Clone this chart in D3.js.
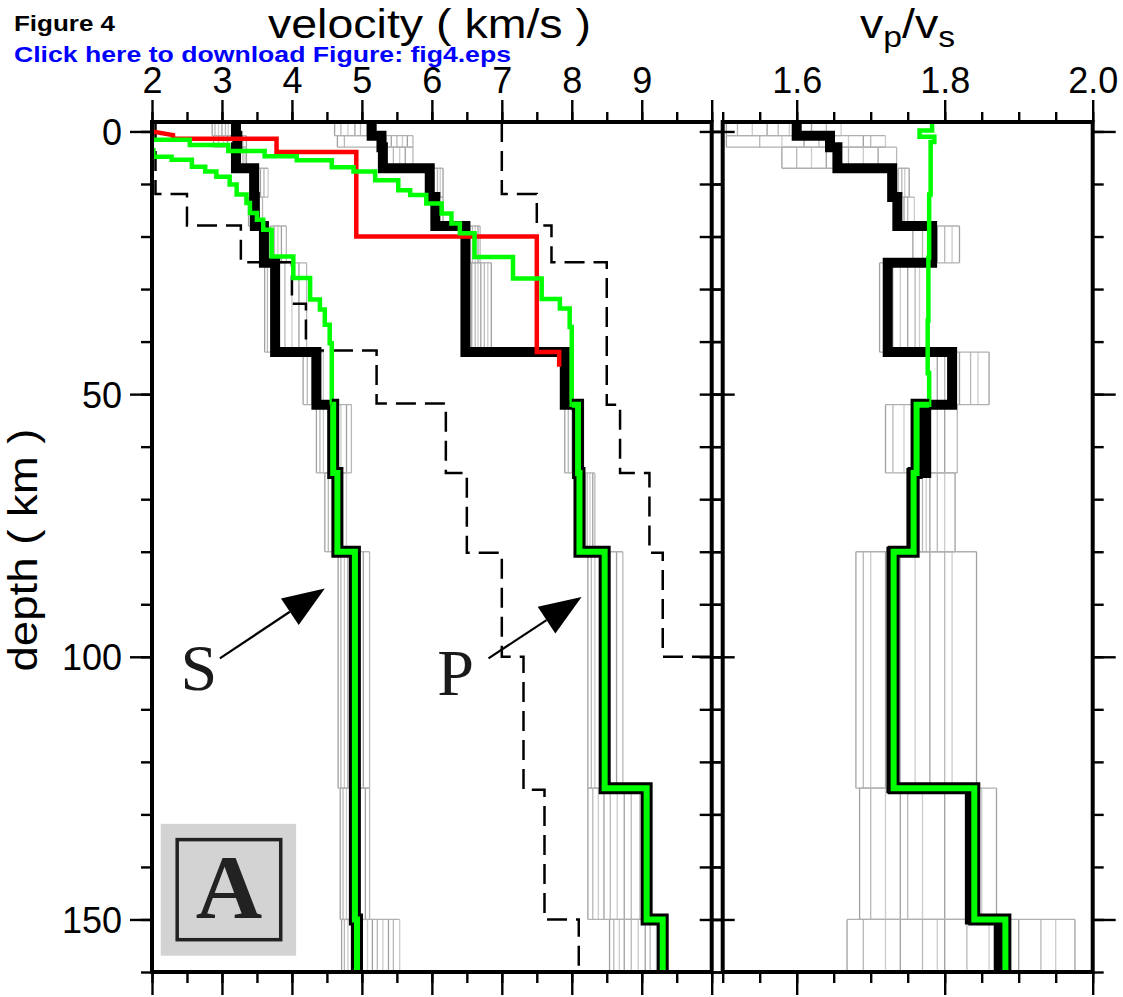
<!DOCTYPE html>
<html>
<head>
<meta charset="utf-8">
<script src="https://cdn.jsdelivr.net/npm/d3@7"></script>
<style>
  body { margin: 0; background: #fff; }
  text { font-family: 'Liberation Sans', Arial, Helvetica, sans-serif; }
</style>
</head>
<body>
<svg id="fig" width="1123" height="997"></svg>
<script>
// Layer tops (km) of the best model; the last layer runs to depthMax
var layerTop = [-1.8, 0.8, 3, 7, 12.5, 18, 25, 42, 52, 65, 80, 125, 150]
var depthMax = 160

// Best model (thick black)
var bestVp = [5.14, 5.28, 5.3, 5.97, 6.05, 6.48, 6.48, 7.9, 8.09, 8.11, 8.47, 9.07, 9.3]
var bestVs = [3.2, 3.22, 3.2, 3.46, 3.47, 3.6, 3.76, 4.35, 4.59, 4.65, 4.89, 4.89, 4.93]
var bestRatio = [1.6, 1.645, 1.655, 1.729, 1.736, 1.783, 1.723, 1.81, 1.775, 1.755, 1.728, 1.834, 1.873]

// Spread of the accepted models, one list per layer (grey)
var vpSpread = [
  [4.61, 4.7, 4.8, 4.9, 4.98, 5.07],
  [4.65, 4.75, 5.35, 5.42, 5.5, 5.58, 5.65, 5.73],
  [5.35, 5.45, 5.54, 5.62, 5.73],
  [6.02, 6.08, 6.12, 6.16],
  [6.02, 6.06, 6.1, 6.16],
  [6.54, 6.58, 6.62, 6.66, 6.69],
  [6.57, 6.62, 6.66, 6.7, 6.75, 6.8, 6.85],
  [7.85, 7.88, 7.92],
  [7.9, 7.95, 8.0, 8.05],
  [8.19, 8.22, 8.26, 8.3, 8.33],
  [8.23, 8.28, 8.33, 8.4, 8.48, 8.55, 8.64, 8.73],
  [8.23, 8.3, 8.38, 8.46, 8.55, 8.65, 8.75, 8.85, 8.97],
  [8.54, 8.6, 8.68, 8.75, 8.85, 8.95, 9.05, 9.12, 9.21]
]
var vsSpread = [
  [2.86, 2.9, 2.95, 3.0, 3.05, 3.09, 3.15],
  [2.88, 2.95, 3.02, 3.08, 3.26, 3.3, 3.35],
  [3.26, 3.3, 3.33, 3.35],
  [3.4, 3.45, 3.5, 3.55, 3.6, 3.66],
  [3.38, 3.42, 3.47, 3.52, 3.58],
  [3.69, 3.75, 3.8, 3.85, 3.92],
  [3.61, 3.65, 3.7, 3.8, 3.9, 4.0, 4.1, 4.21],
  [4.16, 4.22, 4.28, 4.35, 4.4, 4.45],
  [4.35, 4.4, 4.45, 4.6, 4.64, 4.7, 4.78, 4.85],
  [4.47, 4.52, 4.58, 4.65, 4.7, 4.78],
  [4.66, 4.7, 4.75, 4.8, 4.88, 4.95, 5.02, 5.11],
  [4.69, 4.73, 4.78, 4.85, 4.9, 4.97, 5.05, 5.11],
  [4.71, 4.75, 4.8, 4.85, 5.0, 5.08, 5.15, 5.22, 5.3, 5.38, 5.45, 5.54]
]
var ratioSpread = [
  [1.505, 1.52, 1.54, 1.56, 1.575, 1.59, 1.62, 1.64, 1.66],
  [1.505, 1.55, 1.58, 1.61, 1.63, 1.67, 1.69, 1.7, 1.72],
  [1.58, 1.6, 1.62, 1.64, 1.67, 1.69, 1.71, 1.735],
  [1.737, 1.742, 1.746, 1.752],
  [1.745, 1.75, 1.759],
  [1.757, 1.77, 1.78, 1.79, 1.8, 1.81, 1.82],
  [1.712, 1.73, 1.74, 1.75, 1.76, 1.766],
  [1.79, 1.8, 1.81, 1.82, 1.835, 1.845, 1.86],
  [1.72, 1.73, 1.745, 1.76, 1.775, 1.79, 1.8, 1.817],
  [1.765, 1.77, 1.775, 1.78, 1.79, 1.8, 1.814],
  [1.68, 1.69, 1.7, 1.72, 1.74, 1.76, 1.78, 1.8, 1.81, 1.843],
  [1.685, 1.7, 1.72, 1.74, 1.75, 1.77, 1.8, 1.83, 1.85, 1.87],
  [1.668, 1.69, 1.72, 1.74, 1.77, 1.79, 1.8, 1.83, 1.86, 1.9, 1.93, 1.95, 1.976]
]

// Reference model (green)
var greenPTop = [-1.8, 1.6, 2.6, 3.7, 4.7, 5.5, 6.8, 7.6, 9.3, 11.2, 12.1, 13.7, 15.6, 17.5, 19.4, 23.9, 28, 31.9, 33.7, 37.2, 52, 65, 80, 125, 150]
var greenP = [1.9, 2.54, 3.09, 3.61, 4.07, 4.57, 4.88, 5.19, 5.52, 5.69, 5.92, 6.14, 6.28, 6.4, 6.61, 7.16, 7.57, 7.83, 7.97, 8.0, 8.09, 8.11, 8.47, 9.07, 9.3]
var greenSTop = [-1.8, 3.6, 4.8, 5.4, 6.7, 7.6, 8.6, 10.1, 12.0, 13.6, 15.5, 16.8, 18.7, 23.8, 27.9, 32.0, 33.9, 36.8, 40.3, 52, 65, 80, 150]
var greenS = [1.9, 2.02, 2.28, 2.57, 2.76, 2.92, 3.11, 3.21, 3.35, 3.4, 3.5, 3.59, 3.71, 4.02, 4.26, 4.4, 4.47, 4.54, 4.57, 4.59, 4.65, 4.9, 4.93]
var greenRatioTop = [-1.8, -0.2, 1.0, 2.0, 12, 24, 36, 46, 52, 65, 80, 125, 150]
var greenRatio = [1.783, 1.766, 1.786, 1.781, 1.779, 1.778, 1.777, 1.779, 1.762, 1.758, 1.731, 1.84, 1.882]
var greenSplit = 52 // below this depth the reference model is drawn cased

// Starting model (red): velocity / depth vertices
var redV = [2.0, 2.3, 2.3, 3.78, 3.78, 4.92, 4.92, 7.5, 7.5, 7.82, 7.82]
var redD = [0, 0.7, 1.4, 1.4, 3.9, 3.9, 20, 20, 42, 42, 44.8]

// Search bounds (dashed)
var lowTop = [-1.8, 11.9, 17.9, 24.9, 32.8, 41.7, 51.8, 65, 80.2, 100, 125.3, 150]
var lowV = [2.05, 2.5, 3.27, 4.0, 4.2, 5.21, 6.2, 6.5, 7.0, 7.31, 7.61, 8.1]
var highTop = [-1.8, 11.9, 17.9, 24.9, 52, 65, 80.2, 100]
var highV = [7.0, 7.5, 7.71, 8.5, 8.69, 9.11, 9.3, 10.4]

// Axis ticks
var velMajor = [2, 3, 4, 5, 6, 7, 8, 9, 10]
var velMinor = d3.range(2, 10.01, 0.5)
var ratioMajor = [1.6, 1.8, 2.0]
var ratioMinor = d3.range(1.5, 2.001, 0.05)
var depthMajor = [0, 50, 100, 150]
var depthMinor = d3.range(0, 160.1, 10)

// Arrow annotations (start / tip in data units)
var arrows = [
  { label: 'S', x0: 2.97, d0: 100.3, x1: 4.47, d1: 87.0, lx: 2.67, ld: 106.3 },
  { label: 'P', x0: 6.81, d0: 100.3, x1: 8.14, d1: 88.6, lx: 6.34, ld: 107.3 }
]

// The svg
var svg = d3.select('#fig')

// Scales
var x = d3.scaleLinear().domain([2, 10]).range([152, 711.7])
var xr = d3.scaleLinear().domain([1.5, 2.0]).range([722.7, 1092.7])
var y = d3.scaleLinear().domain([-1.8, 160]).range([122, 972])

function stepPoints(tops, vals) {
  var pts = []
  vals.forEach(function(v, i) {
    var bot = i < tops.length - 1 ? tops[i + 1] : depthMax
    pts.push([v, tops[i]], [v, bot])
  })
  return pts
}

var defs = svg.append('defs')
defs.append('clipPath').attr('id', 'clipV').append('rect')
  .attr('x', x(2)).attr('y', y(-1.8))
  .attr('width', x(10) - x(2)).attr('height', y(160) - y(-1.8))
defs.append('clipPath').attr('id', 'clipR').append('rect')
  .attr('x', xr(1.5)).attr('y', y(-1.8))
  .attr('width', xr(2) - xr(1.5)).attr('height', y(160) - y(-1.8))

var gV = svg.append('g').attr('clip-path', 'url(#clipV)')
var gR = svg.append('g').attr('clip-path', 'url(#clipR)')

var shades = ['#a0a0a0', '#b8b8b8', '#cccccc']

function drawSpread(g, xs, spread) {
  var layers = g.append('g').attr('class', 'spread')
    .selectAll('g').data(spread).enter().append('g')
  layers.each(function(vals, i) {
    var top = layerTop[i]
    var bot = i < layerTop.length - 1 ? layerTop[i + 1] : depthMax
    var lay = d3.select(this)
    lay.selectAll('line.v').data(vals).enter().append('line')
      .attr('x1', function(d) { return xs(d) })
      .attr('x2', function(d) { return xs(d) })
      .attr('y1', y(top)).attr('y2', y(bot))
      .attr('stroke', function(d, j) { return shades[j % 3] })
      .attr('stroke-width', 1.3)
    lay.selectAll('line.h').data([top, bot]).enter().append('line')
      .attr('x1', xs(d3.min(vals))).attr('x2', xs(d3.max(vals)))
      .attr('y1', function(d) { return y(d) })
      .attr('y2', function(d) { return y(d) })
      .attr('stroke', '#b0b0b0').attr('stroke-width', 1.3)
  })
}

drawSpread(gV, x, vsSpread)
drawSpread(gV, x, vpSpread)
drawSpread(gR, xr, ratioSpread)

function lineFor(xs) {
  return d3.line().x(function(d) { return xs(d[0]) }).y(function(d) { return y(d[1]) })
}
var lineV = lineFor(x)
var lineR = lineFor(xr)

// dashed bounds
;[stepPoints(lowTop, lowV), stepPoints(highTop, highV)].forEach(function(pts) {
  gV.append('path').attr('d', lineV(pts)).attr('fill', 'none')
    .attr('stroke', '#000').attr('stroke-width', 2.5).attr('stroke-dasharray', '20,9')
})

// best models
gV.append('path').attr('d', lineV(stepPoints(layerTop, bestVs)))
  .attr('fill', 'none').attr('stroke', '#000').attr('stroke-width', 10)
gV.append('path').attr('d', lineV(stepPoints(layerTop, bestVp)))
  .attr('fill', 'none').attr('stroke', '#000').attr('stroke-width', 10)
gR.append('path').attr('d', lineR(stepPoints(layerTop, bestRatio)))
  .attr('fill', 'none').attr('stroke', '#000').attr('stroke-width', 10)

// starting model
gV.append('path').attr('d', lineV(redV.map(function(v, i) { return [v, redD[i]] })))
  .attr('fill', 'none').attr('stroke', '#ff0000').attr('stroke-width', 4.5)

// reference model: thin above greenSplit, cased below
function drawGreen(g, line, tops, vals) {
  var pts = stepPoints(tops, vals)
  var upper = pts.filter(function(p) { return p[1] <= greenSplit })
  var k = tops.indexOf(greenSplit)
  upper.push([vals[k], greenSplit])
  var lower = pts.filter(function(p) { return p[1] >= greenSplit })
  g.append('path').attr('d', line(upper)).attr('fill', 'none')
    .attr('stroke', '#00ff00').attr('stroke-width', 4.5)
  g.append('path').attr('d', line(lower)).attr('fill', 'none')
    .attr('stroke', '#000').attr('stroke-width', 12)
  g.append('path').attr('d', line(lower)).attr('fill', 'none')
    .attr('stroke', '#00ff00').attr('stroke-width', 6)
}
drawGreen(gV, lineV, greenSTop, greenS)
drawGreen(gV, lineV, greenPTop, greenP)
drawGreen(gR, lineR, greenRatioTop, greenRatio)

// arrows and P / S labels
arrows.forEach(function(a) {
  var x0 = x(a.x0), y0 = y(a.d0), x1 = x(a.x1), y1 = y(a.d1)
  var ang = Math.atan2(y1 - y0, x1 - x0)
  var len = 42, hw = 16
  var bx = x1 - len * Math.cos(ang), by = y1 - len * Math.sin(ang)
  svg.append('line').attr('x1', x0).attr('y1', y0).attr('x2', bx).attr('y2', by)
    .attr('stroke', '#000').attr('stroke-width', 2.2)
  svg.append('polygon')
    .attr('points', [
      [x1, y1],
      [bx + hw * Math.sin(ang), by - hw * Math.cos(ang)],
      [bx - hw * Math.sin(ang), by + hw * Math.cos(ang)]
    ].map(function(p) { return p.join(',') }).join(' '))
    .attr('fill', '#000')
  svg.append('text').attr('x', x(a.lx)).attr('y', y(a.ld))
    .attr('text-anchor', 'middle')
    .style('font-family', "'Liberation Serif', 'Times New Roman', serif")
    .style('font-size', '66px').attr('fill', '#1a1a1a')
    .text(a.label)
})

// panel label
svg.append('rect').attr('x', x(2.125)).attr('y', y(131.8))
  .attr('width', x(4.06) - x(2.125)).attr('height', y(156.9) - y(131.8))
  .attr('fill', '#d3d3d3')
svg.append('rect').attr('x', x(2.36)).attr('y', y(134.8))
  .attr('width', x(3.84) - x(2.36)).attr('height', y(153.85) - y(134.8))
  .attr('fill', 'none').attr('stroke', '#222').attr('stroke-width', 3.5)
svg.append('text').attr('x', x(3.1)).attr('y', y(149.8))
  .attr('text-anchor', 'middle')
  .style('font-family', "'Liberation Serif', 'Times New Roman', serif")
  .style('font-weight', 'bold').style('font-size', '92px').attr('fill', '#222')
  .text('A')

// frames
;[[x(2), x(10)], [xr(1.5), xr(2)]].forEach(function(r) {
  svg.append('rect').attr('x', r[0]).attr('y', y(-1.8))
    .attr('width', r[1] - r[0]).attr('height', y(160) - y(-1.8))
    .attr('fill', 'none').attr('stroke', '#000').attr('stroke-width', 4)
})

// axes
function addAxis(axis, tx, ty, cls) {
  var g = svg.append('g').attr('class', cls).attr('transform', 'translate(' + tx + ',' + ty + ')').call(axis)
  g.select('.domain').remove()
  g.selectAll('line').attr('stroke', '#000').attr('stroke-width', 2.4)
  g.selectAll('text').attr('fill', '#000').style('font-size', '36px')
    .style('font-family', "'Liberation Sans', Arial, sans-serif")
  return g
}
var noLabel = function() { return '' }

// velocity axis
addAxis(d3.axisTop(x).tickValues(velMinor).tickSize(10).tickFormat(noLabel), 0, y(-1.8), 'minor')
addAxis(d3.axisTop(x).tickValues(velMajor).tickSize(22).tickPadding(7)
  .tickFormat(function(d) { return d < 10 ? d : '' }), 0, y(-1.8), 'major')
addAxis(d3.axisBottom(x).tickValues(velMinor).tickSize(11).tickFormat(noLabel), 0, y(160), 'minor')
addAxis(d3.axisBottom(x).tickValues(velMajor).tickSize(23).tickFormat(noLabel), 0, y(160), 'major')

// ratio axis
addAxis(d3.axisTop(xr).tickValues(ratioMinor).tickSize(10).tickFormat(noLabel), 0, y(-1.8), 'minor')
addAxis(d3.axisTop(xr).tickValues(ratioMajor).tickSize(22).tickPadding(7)
  .tickFormat(d3.format('.1f')), 0, y(-1.8), 'major')
addAxis(d3.axisBottom(xr).tickValues(ratioMinor).tickSize(11).tickFormat(noLabel), 0, y(160), 'minor')
addAxis(d3.axisBottom(xr).tickValues(ratioMajor).tickSize(23).tickFormat(noLabel), 0, y(160), 'major')

// depth axes
addAxis(d3.axisLeft(y).tickValues(depthMinor).tickSize(11).tickFormat(noLabel), x(2), 0, 'minor')
addAxis(d3.axisLeft(y).tickValues(depthMajor).tickSize(22).tickPadding(8), x(2), 0, 'major')
  .selectAll('text').attr('dy', '0.36em')
addAxis(d3.axisRight(y).tickValues(depthMinor).tickSize(11).tickFormat(noLabel), x(10), 0, 'minor')
addAxis(d3.axisRight(y).tickValues(depthMajor).tickSize(23).tickFormat(noLabel), x(10), 0, 'major')
addAxis(d3.axisLeft(y).tickValues(depthMinor).tickSize(23).tickFormat(noLabel), xr(1.5), 0, 'minor')
addAxis(d3.axisRight(y).tickValues(depthMinor).tickSize(11).tickFormat(noLabel), xr(2), 0, 'minor')
addAxis(d3.axisRight(y).tickValues(depthMajor).tickSize(23).tickFormat(noLabel), xr(2), 0, 'major')

// titles
svg.append('text').attr('x', 268).attr('y', 38)
  .attr('textLength', 323).attr('lengthAdjust', 'spacingAndGlyphs')
  .style('font-size', '40px').attr('fill', '#000')
  .text('velocity ( km/s )')

var vt = svg.append('text').attr('x', 860).attr('y', 38)
  .attr('textLength', 95).attr('lengthAdjust', 'spacingAndGlyphs')
  .style('font-size', '40px').attr('fill', '#000')
vt.append('tspan').text('v')
vt.append('tspan').attr('dy', 9).style('font-size', '29px').text('p')
vt.append('tspan').attr('dy', -9).text('/v')
vt.append('tspan').attr('dy', 9).style('font-size', '29px').text('s')

svg.append('text').attr('transform', 'translate(37,550) rotate(-90)')
  .attr('text-anchor', 'middle')
  .attr('textLength', 243).attr('lengthAdjust', 'spacingAndGlyphs')
  .style('font-size', '40px').attr('fill', '#000')
  .text('depth ( km )')

svg.append('text').attr('x', 14).attr('y', 31)
  .attr('textLength', 101).attr('lengthAdjust', 'spacingAndGlyphs')
  .style('font-size', '22.5px').style('font-weight', 'bold').attr('fill', '#000')
  .text('Figure 4')
svg.append('text').attr('x', 14).attr('y', 62)
  .attr('textLength', 497).attr('lengthAdjust', 'spacingAndGlyphs')
  .style('font-size', '22.5px').style('font-weight', 'bold').attr('fill', '#0000ff')
  .text('Click here to download Figure: fig4.eps')
</script>
</body>
</html>
